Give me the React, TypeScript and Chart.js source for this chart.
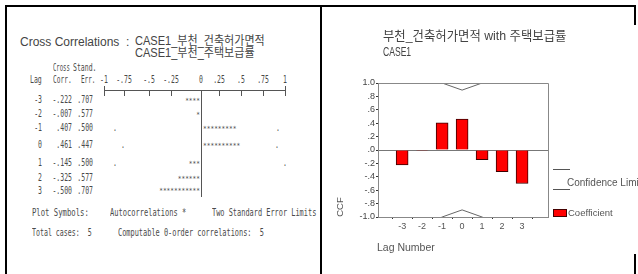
import React, { useEffect, useRef } from 'react';
import { Chart, registerables } from 'chart.js';

Chart.register(...registerables);

// ---- data ----
const lags = [-3, -2, -1, 0, 1, 2, 3];
const coefficients = [-0.222, -0.007, 0.407, 0.461, -0.145, -0.325, -0.5];
const stdErrors = [0.707, 0.577, 0.5, 0.447, 0.5, 0.577, 0.707];
const upperLimits = [1.414, 1.154, 1.0, 0.894, 1.0, 1.154, 1.414];
const lowerLimits = [-1.414, -1.154, -1.0, -0.894, -1.0, -1.154, -1.414];
const starCounts = [4, 1, 9, 10, 3, 6, 11];
const asciiScaleLabels = ['-1', '-.75', '-.5', '-.25', '0', '.25', '.5', '.75', '1'];
const chartTitle = '부천_건축허가면적 with 주택보급률';
const chartSubtitle = 'CASE1';
const leftTitleLead = 'Cross Correlations';
const leftTitle1 = 'CASE1_부천_건축허가면적';
const leftTitle2 = 'CASE1_부천_주택보급률';
const legendLimit = 'Confidence Limit';
const legendCoef = 'Coefficient';
const xTitle = 'Lag Number';
const yTitle = 'CCF';

// ---- layout constants ----
const MONO = '"DejaVu Sans Mono", "Liberation Mono", monospace';
const SANS = '"Liberation Sans", Arial, "Noto Sans CJK KR", sans-serif';
const TXT = '#4a4a4a';
const rowY = [100, 114, 128, 145, 163, 178, 190.5];
const scaleX = [104, 124, 149, 171, 201, 219, 241, 263, 285];
const dotPos: Record<number, number[]> = { 2: [115, 278], 3: [123, 277], 4: [115, 285] };

const fmt3 = (v: number) => v.toFixed(3).replace(/^(-?)0\./, '$1.');
const fmtY = (v: number) => {
  const r = Math.round(v * 10) / 10;
  if (Math.abs(r) < 1e-9) return '.0';
  return r.toFixed(1).replace(/^(-?)0\./, '$1.');
};

type TProps = {
  x: number; y: number; text: string; size: number;
  anchor?: 'left' | 'right' | 'center'; sx?: number; font?: string; color?: string;
};
function T({ x, y, text, size, anchor = 'left', sx = 1, font = MONO, color = TXT }: TProps) {
  const origin = anchor === 'left' ? 'left center' : anchor === 'right' ? 'right center' : 'center center';
  const shift = anchor === 'left' ? '' : anchor === 'right' ? 'translateX(-100%) ' : 'translateX(-50%) ';
  const lh = size * 1.2;
  return (
    <span
      style={{
        position: 'absolute', left: x, top: y - lh / 2, fontFamily: font, fontSize: size,
        lineHeight: `${lh}px`, whiteSpace: 'pre', color, transformOrigin: origin,
        transform: `${shift}scaleX(${sx})`,
      }}
    >
      {text}
    </span>
  );
}

function Box({ x, y, w, h, c = '#000' }: { x: number; y: number; w: number; h: number; c?: string }) {
  return <div style={{ position: 'absolute', left: x, top: y, width: w, height: h, background: c }} />;
}

const CANVAS_X = 322;
const CANVAS_Y = 7;
const CW = 316;
const CH = 267;

function CcfChart() {
  const ref = useRef<HTMLCanvasElement | null>(null);
  useEffect(() => {
    if (!ref.current) return;
    const fam = SANS;
    const scaledText = (ctx: any, text: string, x: number, y: number, sx: number) => {
      ctx.save();
      ctx.translate(x, y);
      ctx.scale(sx, 1);
      ctx.fillText(text, 0, 0);
      ctx.restore();
    };
    const textPlugin = {
      id: 'spssText',
      afterDraw(chart: any) {
        const { ctx, chartArea } = chart;
        const { left, right, top, bottom } = chartArea;
        ctx.save();
        // frame top and right
        ctx.strokeStyle = '#888';
        ctx.lineWidth = 1;
        ctx.beginPath();
        ctx.moveTo(left, top + 0.5);
        ctx.lineTo(right + 0.5, top + 0.5);
        ctx.lineTo(right + 0.5, bottom);
        ctx.stroke();
        // titles
        ctx.fillStyle = '#444';
        ctx.textBaseline = 'middle';
        ctx.textAlign = 'left';
        ctx.font = `13px ${fam}`;
        scaledText(ctx, chartTitle, 61, 29, 0.95);
        ctx.font = `13px ${fam}`;
        scaledText(ctx, chartSubtitle, 61, 45, 0.66);
        // x title
        ctx.fillStyle = '#555';
        ctx.font = `10.5px ${fam}`;
        ctx.fillText(xTitle, 55, 241);
        // y title
        ctx.save();
        ctx.translate(18.5, 200);
        ctx.rotate(-Math.PI / 2);
        ctx.textAlign = 'center';
        ctx.font = `9.5px ${fam}`;
        ctx.fillText(yTitle, 0, 0);
        ctx.restore();
        // legend
        ctx.strokeStyle = '#555';
        ctx.beginPath();
        ctx.moveTo(231, 162.5);
        ctx.lineTo(248, 162.5);
        ctx.moveTo(231, 182.5);
        ctx.lineTo(248, 182.5);
        ctx.stroke();
        ctx.font = `10px ${fam}`;
        ctx.fillStyle = '#555';
        ctx.fillText(legendLimit, 245, 176);
        ctx.fillStyle = '#ff0000';
        ctx.fillRect(231, 202, 14, 8);
        ctx.strokeStyle = '#400';
        ctx.strokeRect(231.5, 202.5, 13, 7);
        ctx.fillStyle = '#555';
        ctx.font = `9.5px ${fam}`;
        ctx.fillText(legendCoef, 246, 206);
        ctx.restore();
      },
    };
    const chart = new Chart(ref.current, {
      type: 'bar',
      data: {
        datasets: [
          {
            type: 'line',
            label: legendLimit,
            data: lags.map((l, i) => ({ x: l, y: upperLimits[i] })),
            borderColor: '#666',
            borderWidth: 1,
            pointRadius: 0,
            fill: false,
            tension: 0,
          } as any,
          {
            type: 'line',
            label: legendLimit,
            data: lags.map((l, i) => ({ x: l, y: lowerLimits[i] })),
            borderColor: '#666',
            borderWidth: 1,
            pointRadius: 0,
            fill: false,
            tension: 0,
          } as any,
          {
            type: 'bar',
            label: legendCoef,
            data: lags.map((l, i) => ({ x: l, y: coefficients[i] })),
            backgroundColor: '#ff0000',
            borderColor: '#3a0000',
            borderWidth: 1,
            barThickness: 12,
          } as any,
        ],
      },
      options: {
        responsive: false,
        animation: false,
        layout: { padding: { left: 0, right: 90, top: 76, bottom: 0 } },
        plugins: { legend: { display: false }, tooltip: { enabled: false } },
        scales: {
          x: {
            type: 'linear',
            min: -3.6,
            max: 3.69,
            afterBuildTicks: (s: any) => {
              s.ticks = lags.map((v) => ({ value: v }));
            },
            afterFit: (s: any) => {
              s.height = 57;
            },
            grid: { drawOnChartArea: false, color: '#333', tickLength: 2 },
            border: { color: '#888', width: 1 },
            ticks: {
              autoSkip: false,
              maxRotation: 0,
              padding: 2,
              color: '#555',
              font: { size: 9, family: fam },
              callback: (v: any) => String(v),
            },
          },
          y: {
            min: -1,
            max: 1,
            afterFit: (s: any) => {
              s.width = 56;
            },
            grid: {
              drawOnChartArea: true,
              color: (c: any) => (c.tick && Math.abs(c.tick.value) < 1e-9 ? '#777' : 'rgba(0,0,0,0)'),
              tickColor: '#333',
              tickLength: 2,
            },
            border: { color: '#888', width: 1 },
            ticks: {
              stepSize: 0.2,
              autoSkip: false,
              padding: 1,
              color: '#444',
              font: { size: 9, family: fam },
              callback: (v: any) => fmtY(Number(v)),
            },
          },
        },
      } as any,
      plugins: [textPlugin],
    });
    return () => chart.destroy();
  }, []);
  return (
    <canvas
      ref={ref}
      width={CW}
      height={CH}
      style={{ position: 'absolute', left: CANVAS_X, top: CANVAS_Y, width: CW, height: CH }}
    />
  );
}

export default function App() {
  return (
    <div
      style={{
        position: 'absolute', left: 0, top: 0, width: 638, height: 274,
        background: '#fff', overflow: 'hidden',
      }}
    >
      {/* frame lines */}
      <Box x={5} y={5} w={631} h={2} />
      <Box x={5} y={5} w={2} h={269} />
      <Box x={320} y={5} w={2} h={269} />
      <Box x={634} y={5} w={2} h={20} />
      <Box x={634} y={254} w={2} h={20} />

      {/* left panel: text output */}
      <T x={20} y={42} text={leftTitleLead} size={12} font={SANS} color="#444" />
      <T x={126} y={42} text=":" size={12} font={SANS} color="#444" />
      <T x={135} y={41.5} text={leftTitle1} size={12} sx={0.92} font={SANS} color="#444" />
      <T x={135} y={53} text={leftTitle2} size={12} sx={0.92} font={SANS} color="#444" />

      <T x={53} y={68} text="Cross" size={10} sx={0.56} />
      <T x={73} y={68} text="Stand." size={10} sx={0.65} />
      <T x={30} y={80} text="Lag" size={10} sx={0.65} />
      <T x={53} y={80} text="Corr." size={10} sx={0.62} />
      <T x={81} y={80} text="Err." size={10} sx={0.6} />
      {asciiScaleLabels.map((t, i) => (
        <T key={'s' + i} x={scaleX[i]} y={80} text={t} size={10} sx={0.65} anchor="center" />
      ))}
      <Box x={scaleX[0]} y={90} w={scaleX[8] - scaleX[0] + 1} h={1} c="#555" />
      {scaleX.map((x, i) => (
        <Box key={'k' + i} x={x} y={i === 0 || i === 8 ? 86 : 90} w={1} h={i === 0 || i === 8 ? 10 : 6} c="#555" />
      ))}
      <Box x={201} y={96} w={1} h={101} c="#555" />

      {lags.map((l, i) => (
        <React.Fragment key={'r' + i}>
          <T x={42} y={rowY[i]} text={String(l)} size={10} sx={0.65} anchor="right" />
          <T x={72} y={rowY[i]} text={fmt3(coefficients[i])} size={10} sx={0.65} anchor="right" />
          <T x={93} y={rowY[i]} text={fmt3(stdErrors[i])} size={10} sx={0.65} anchor="right" />
          <T
            x={coefficients[i] < 0 ? 199.5 : 203}
            y={rowY[i] + 1}
            text={'*'.repeat(starCounts[i])}
            size={7}
            sx={0.88}
            anchor={coefficients[i] < 0 ? 'right' : 'left'}
          />
          {(dotPos[i] || []).map((dx, j) => (
            <T key={'d' + j} x={dx} y={rowY[i]} text="." size={10} sx={0.65} anchor="center" />
          ))}
        </React.Fragment>
      ))}

      <T x={32} y={213} text="Plot Symbols:" size={11} sx={0.66} />
      <T x={110} y={213} text="Autocorrelations *" size={11} sx={0.64} />
      <T x={212} y={213} text="Two Standard Error Limits" size={11} sx={0.63} />
      <T x={32} y={233} text="Total cases:  5" size={11} sx={0.6} />
      <T x={118} y={233} text="Computable 0-order correlations:  5" size={11} sx={0.63} />

      {/* right panel: chart */}
      <CcfChart />
    </div>
  );
}
